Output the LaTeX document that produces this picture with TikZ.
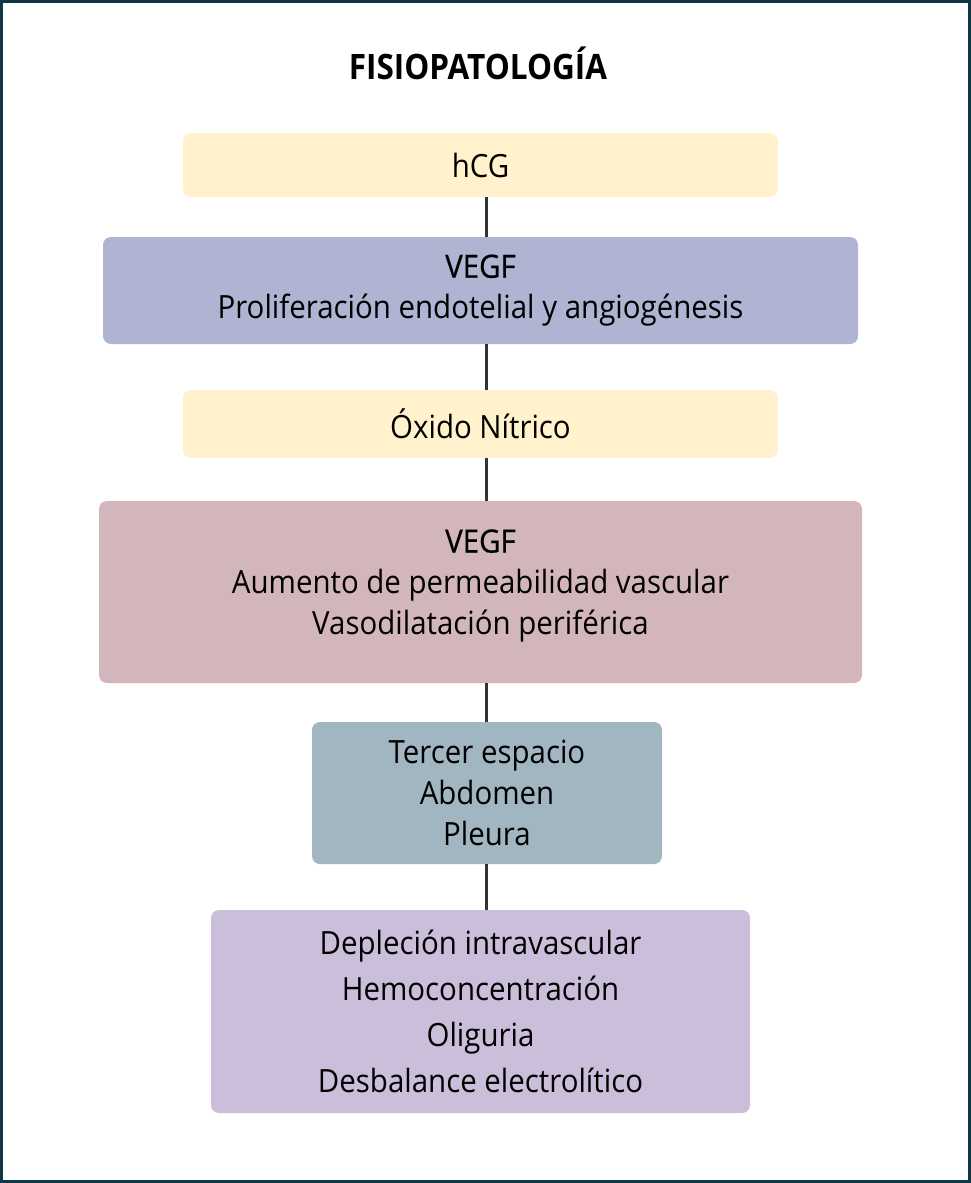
\documentclass[tikz,border=0pt]{standalone}
\usepackage{fontspec}
\setmainfont{Open Sans}[FakeStretch=0.92]
\newfontfamily\midfont{Open Sans}[FakeStretch=0.92,FakeBold=0.6]
\newfontfamily\titlefont{Open Sans}[FakeStretch=0.9]
\usetikzlibrary{positioning}
\definecolor{frameC}{HTML}{0E3748}
\definecolor{yelC}{HTML}{FFF2CC}
\definecolor{lavC}{HTML}{AEB4D2}
\definecolor{pinkC}{HTML}{D3B6BB}
\definecolor{tealC}{HTML}{A2B6C2}
\definecolor{purC}{HTML}{CBBEDA}
\definecolor{lineC}{HTML}{333333}
\tikzset{
  box/.style={rounded corners=8pt, inner sep=0pt, align=center, text=black,
    font=\fontsize{32}{41}\selectfont},
  link/.style={draw=lineC, line width=3pt},
}
\begin{document}
\begin{tikzpicture}[x=1pt,y=-1pt]
\useasboundingbox (0,0) rectangle (971,1183);
\draw[frameC, line width=3pt] (1.5,1.5) rectangle (969.5,1181.5);
\node[font=\titlefont\fontsize{35}{40}\selectfont\bfseries] (title) at (478,63) {FISIOPATOLOGÍA};
\coordinate (spine) at (486,0);
\node[box, fill=yelC, minimum width=595pt, minimum height=64pt] (hcg) at (480.5,165) {hCG};
\node[box, fill=lavC, minimum width=755pt, minimum height=107pt] (v1) at (480.5,290.5)
  {{\midfont VEGF}\\Proliferación endotelial y angiogénesis};
\node[box, fill=yelC, minimum width=595pt, minimum height=68pt] (no) at (480.5,424) {Óxido Nítrico};
\node[box, fill=pinkC, minimum width=763pt, minimum height=182pt] (v2) at (480.5,592)
  {{\midfont VEGF}\\Aumento de permeabilidad vascular\\Vasodilatación periférica\\[-21pt]};
\node[box, fill=tealC, minimum width=350pt, minimum height=142pt] (ts) at (487,793)
  {Tercer espacio\\Abdomen\\Pleura};
\node[box, fill=purC, minimum width=539pt, minimum height=203pt,
  font=\fontsize{32}{46}\selectfont] (dep) at (480.5,1011.5)
  {Depleción intravascular\\Hemoconcentración\\Oliguria\\Desbalance electrolítico};
\draw[link] (hcg.south -| spine) -- (v1.north -| spine);
\draw[link] (v1.south -| spine) -- (no.north -| spine);
\draw[link] (no.south -| spine) -- (v2.north -| spine);
\draw[link] (v2.south -| spine) -- (ts.north -| spine);
\draw[link] (ts.south -| spine) -- (dep.north -| spine);
\end{tikzpicture}
\end{document}
